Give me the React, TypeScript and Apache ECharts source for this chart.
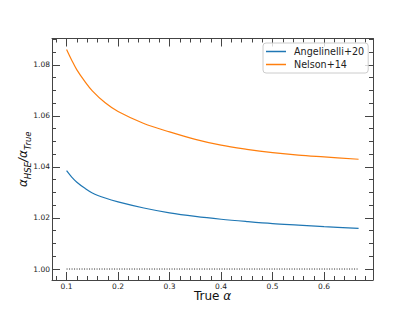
import React, { useEffect, useRef } from "react";
import * as echarts from "echarts";

const alphaTrue = [0.1, 0.11, 0.12, 0.135, 0.15, 0.175, 0.2, 0.25, 0.3, 0.35, 0.4, 0.45, 0.5, 0.55, 0.6, 0.667];
const angelinelli = [1.0385, 1.036, 1.034, 1.0317, 1.0298, 1.0278, 1.0263, 1.0239, 1.022, 1.0206, 1.0195, 1.0186, 1.0178, 1.0172, 1.0166, 1.0159];
const nelson = [1.086, 1.0818, 1.078, 1.0736, 1.0698, 1.0651, 1.0617, 1.057, 1.0537, 1.0508, 1.0485, 1.0469, 1.0456, 1.0446, 1.0439, 1.043];
const refX = [0.1, 0.667];
const refY = [1.0, 1.0];

const xMajor = [0.1, 0.2, 0.3, 0.4, 0.5, 0.6];
const xMinor = [0.08, 0.12, 0.14, 0.16, 0.18, 0.22, 0.24, 0.26, 0.28, 0.32, 0.34, 0.36, 0.38, 0.42, 0.44, 0.46, 0.48, 0.52, 0.54, 0.56, 0.58, 0.62, 0.64, 0.66, 0.68];
const yMajor = [1.0, 1.02, 1.04, 1.06, 1.08];
const yMinor = [1.005, 1.01, 1.015, 1.025, 1.03, 1.035, 1.045, 1.05, 1.055, 1.065, 1.07, 1.075, 1.085, 1.09];

const X_MIN = 0.0717;
const X_MAX = 0.695;
const Y_MIN = 0.9957;
const Y_MAX = 1.0903;

const FONT = "DejaVu Sans";
const AX = "#444";

function xAx(position: string, ticks: number[], len: number, labels: boolean, line: boolean, extra: any = {}) {
  return {
    type: "value",
    position,
    min: X_MIN,
    max: X_MAX,
    axisLine: { show: line, onZero: false, lineStyle: { color: AX, width: 1 } },
    axisTick: { show: true, inside: true, length: len, customValues: ticks, lineStyle: { color: AX, width: 1 } },
    axisLabel: labels
      ? { show: true, customValues: ticks, margin: 2, fontFamily: FONT, fontSize: 7.5, color: "#222", formatter: (v: number) => v.toFixed(1) }
      : { show: false },
    splitLine: { show: false },
    ...extra,
  };
}

function yAx(position: string, ticks: number[], len: number, labels: boolean, line: boolean, extra: any = {}) {
  return {
    type: "value",
    position,
    min: Y_MIN,
    max: Y_MAX,
    axisLine: { show: line, onZero: false, lineStyle: { color: AX, width: 1 } },
    axisTick: { show: true, inside: true, length: len, customValues: ticks, lineStyle: { color: AX, width: 1 } },
    axisLabel: labels
      ? { show: true, customValues: ticks, margin: 2, fontFamily: FONT, fontSize: 7.5, color: "#222", formatter: (v: number) => v.toFixed(2) }
      : { show: false },
    splitLine: { show: false },
    ...extra,
  };
}

export default function App() {
  const ref = useRef<HTMLDivElement>(null);
  useEffect(() => {
    if (!ref.current) return;
    const chart = echarts.init(ref.current, null, { renderer: "svg" });
    const option: any = {
      animation: false,
      backgroundColor: "#fff",
      grid: { left: 52, right: 42, top: 38.5, bottom: 40, outerBoundsMode: "none" },
      legend: {
        data: ["Angelinelli+20", "Nelson+14"],
        orient: "vertical",
        left: 263,
        top: 43,
        padding: [3, 4, 3, 3],
        itemGap: 2,
        itemWidth: 20,
        itemHeight: 1.5,
        icon: "rect",
        borderColor: "#ccc",
        borderWidth: 1,
        borderRadius: 3,
        backgroundColor: "rgba(255,255,255,0.8)",
        textStyle: { fontFamily: FONT, fontSize: 9.6, color: "#222", padding: [0, 0, 0, 3], lineHeight: 11 },
      },
      xAxis: [
        xAx("bottom", xMajor, 8, true, true, {
          name: "{t|True }{a|α}",
          nameLocation: "middle",
          nameGap: 10,
          nameMoveOverlap: false,
          nameTextStyle: {
            rich: {
              t: { fontFamily: FONT, fontSize: 12, color: "#111" },
              a: { fontFamily: FONT, fontSize: 12, fontStyle: "italic", color: "#111" },
            },
          },
        }),
        xAx("bottom", xMinor, 4, false, false),
        xAx("top", xMajor, 8, false, true),
        xAx("top", xMinor, 4, false, false),
      ],
      yAxis: [
        yAx("left", yMajor, 8, true, true, {
          name: "{a|α}{s|HSE}{a|/}{a|α}{s|True}",
          nameLocation: "middle",
          nameGap: 20,
          nameRotate: 90,
          nameMoveOverlap: false,
          nameTextStyle: {
            rich: {
              a: { fontFamily: FONT, fontSize: 12, fontStyle: "italic", color: "#111", lineHeight: 18 },
              s: { fontFamily: FONT, fontSize: 8.5, fontStyle: "italic", color: "#111", lineHeight: 9, verticalAlign: "bottom" },
            },
          },
        }),
        yAx("left", yMinor, 4, false, false),
        yAx("right", yMajor, 8, false, true),
        yAx("right", yMinor, 4, false, false),
      ],
      series: [
        {
          name: "Angelinelli+20",
          type: "line",
          xAxisIndex: 0,
          yAxisIndex: 0,
          data: alphaTrue.map((x, i) => [x, angelinelli[i]]),
          smooth: 0.35,
          showSymbol: false,
          symbol: "none",
          lineStyle: { color: "#1f77b4", width: 1.2 },
          itemStyle: { color: "#1f77b4" },
        },
        {
          name: "Nelson+14",
          type: "line",
          xAxisIndex: 0,
          yAxisIndex: 0,
          data: alphaTrue.map((x, i) => [x, nelson[i]]),
          smooth: 0.35,
          showSymbol: false,
          symbol: "none",
          lineStyle: { color: "#ff7f0e", width: 1.2 },
          itemStyle: { color: "#ff7f0e" },
        },
        {
          name: "ref",
          type: "line",
          xAxisIndex: 0,
          yAxisIndex: 0,
          data: refX.map((x, i) => [x, refY[i]]),
          showSymbol: false,
          symbol: "none",
          lineStyle: { color: "#222", width: 1, type: [1, 1.5] },
        },
      ],
    };
    chart.setOption(option);
    return () => chart.dispose();
  }, []);
  return <div ref={ref} style={{ width: 415, height: 320, margin: -8 }} />;
}
